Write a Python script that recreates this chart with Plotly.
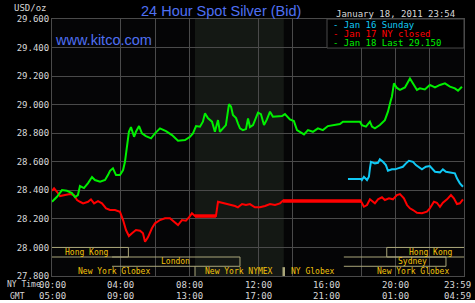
import plotly.graph_objects as go

# ---------------- data ----------------
# hours after midnight, New York time
green_hours = [0.00, 0.29, 0.58, 0.87, 1.16, 1.34, 1.51, 1.63, 1.86, 2.10, 2.33, 2.50, 2.80, 3.09, 3.26,
               3.38, 3.55, 3.73, 3.96, 4.14, 4.25, 4.37, 4.48, 4.60, 4.78, 4.89, 5.07, 5.24, 5.47, 5.77,
               6.00, 6.29, 6.64, 6.99, 7.34, 7.75, 8.04, 8.21, 8.39, 8.62, 8.79, 8.91, 9.09, 9.32, 9.49,
               9.67, 9.78, 9.96, 10.13, 10.31, 10.43, 10.54, 10.72, 10.83, 10.95, 11.12, 11.30, 11.42,
               11.53, 11.71, 12.00, 12.17, 12.35, 12.52, 12.70, 12.87, 13.16, 13.40, 13.57, 13.86, 14.09,
               14.27, 14.44, 14.68, 14.91, 15.20, 15.49, 15.78, 16.07, 16.37, 16.77, 16.95, 17.24, 17.94,
               18.05, 18.29, 18.52, 18.64, 18.81, 19.10, 19.39, 19.57, 19.74, 19.80, 19.92, 20.09, 20.27,
               20.56, 20.85, 21.03, 21.26, 21.43, 21.72, 22.01, 22.31, 22.60, 22.89, 23.18, 23.47, 23.65,
               23.88]
green_prices = [28.320, 28.355, 28.402, 28.397, 28.381, 28.353, 28.367, 28.430, 28.416, 28.451, 28.493,
                28.472, 28.460, 28.472, 28.507, 28.537, 28.554, 28.507, 28.507, 28.542, 28.600, 28.705,
                28.810, 28.843, 28.775, 28.810, 28.850, 28.799, 28.780, 28.764, 28.799, 28.834, 28.815,
                28.787, 28.747, 28.752, 28.775, 28.799, 28.850, 28.846, 28.881, 28.939, 28.904, 28.881,
                28.810, 28.892, 28.810, 28.834, 28.857, 29.004, 28.986, 28.927, 28.906, 28.869, 28.834,
                28.822, 28.829, 28.904, 28.843, 28.857, 28.944, 28.934, 28.857, 28.897, 28.951, 28.916,
                28.916, 28.920, 28.934, 28.897, 28.885, 28.822, 28.810, 28.792, 28.822, 28.810, 28.834,
                28.822, 28.850, 28.857, 28.864, 28.881, 28.881, 28.881, 28.857, 28.846, 28.881, 28.846,
                28.834, 28.857, 28.892, 28.951, 29.032, 29.056, 29.149, 29.117, 29.103, 29.121, 29.184,
                29.149, 29.103, 29.114, 29.107, 29.138, 29.121, 29.138, 29.149, 29.126, 29.114, 29.098,
                29.126]

red_hours = [0.00, 0.12, 0.29, 0.47, 0.76, 1.05, 1.28, 1.46, 1.63, 1.81, 2.10, 2.27, 2.45, 2.68, 2.91,
             3.15, 3.38, 3.67, 3.96, 4.14, 4.31, 4.48, 4.66, 4.89, 5.13, 5.30, 5.42, 5.59, 5.82, 6.00,
             6.29, 6.58, 6.87, 7.11, 7.34, 7.57, 7.80, 7.98, 8.15, 8.33, 9.55, 9.67, 10.08, 10.37, 10.66,
             10.83, 11.07, 11.30, 11.53, 11.82, 12.11, 12.41, 12.70, 12.99, 13.28, 13.45, 18.00, 18.17,
             18.35, 18.52, 18.64, 18.81, 18.99, 19.22, 19.39, 19.63, 19.86, 20.09, 20.27, 20.50, 20.68,
             20.85, 21.03, 21.26, 21.55, 21.84, 22.01, 22.25, 22.42, 22.60, 22.77, 23.01, 23.24, 23.41,
             23.59, 23.76, 23.94]
red_prices = [28.397, 28.414, 28.390, 28.360, 28.367, 28.374, 28.367, 28.332, 28.320, 28.309, 28.320,
              28.337, 28.309, 28.325, 28.309, 28.274, 28.262, 28.262, 28.250, 28.192, 28.122, 28.080,
              28.099, 28.122, 28.117, 28.099, 28.040, 28.071, 28.134, 28.169, 28.192, 28.204, 28.204,
              28.180, 28.157, 28.192, 28.187, 28.211, 28.239, 28.220, 28.220, 28.320, 28.309, 28.297,
              28.290, 28.281, 28.304, 28.297, 28.304, 28.281, 28.281, 28.290, 28.304, 28.297, 28.309,
              28.327, 28.323, 28.285, 28.297, 28.337, 28.327, 28.309, 28.337, 28.351, 28.332, 28.344,
              28.337, 28.367, 28.374, 28.344, 28.297, 28.274, 28.262, 28.243, 28.239, 28.250, 28.274,
              28.320, 28.313, 28.285, 28.313, 28.337, 28.367, 28.344, 28.304, 28.309, 28.337]

# flat stretches while New York was closed (drawn heavier)
red_flat_hours = [[8.33, 9.55], [13.45, 18.00]]
red_flat_prices = [[28.220, 28.220], [28.325, 28.325]]

cyan_hours = [17.24, 18.00, 18.05, 18.17, 18.35, 18.46, 18.52, 18.58, 18.81, 18.99, 19.10, 19.28, 19.45,
              19.57, 19.80, 19.98, 20.15, 20.44, 20.62, 20.79, 21.03, 21.20, 21.55, 21.78, 22.01, 22.31,
              22.60, 22.77, 22.95, 23.30, 23.47, 23.59, 23.76, 23.94]
cyan_prices = [28.479, 28.479, 28.472, 28.495, 28.472, 28.495, 28.554, 28.600, 28.589, 28.593, 28.617,
               28.600, 28.577, 28.537, 28.547, 28.547, 28.554, 28.565, 28.589, 28.607, 28.600, 28.577,
               28.547, 28.565, 28.570, 28.530, 28.526, 28.547, 28.530, 28.523, 28.519, 28.484, 28.449,
               28.425]

y_ticks = [27.8, 28.0, 28.2, 28.4, 28.6, 28.8, 29.0, 29.2, 29.4, 29.6]
x_grid_hours = [4, 6, 8, 12, 14, 18, 20, 22]
ny_tick_hours = [0, 4, 8, 12, 16, 20, 23.6]
ny_tick_labels = ["00:00", "04:00", "08:00", "12:00", "16:00", "20:00", "23:59"]
gmt_tick_labels = ["05:00", "09:00", "13:00", "17:00", "21:00", "01:00", "04:59"]

legend_labels = ["- Jan 16 Sunday", "- Jan 17 NY closed", "- Jan 18 Last 29.150"]

nymex_open, nymex_close = 8.33, 13.5

# sessions: name, start hour, end hour, row (1 = top)
session_names = ["Hong Kong", "London", "New York Globex", "New York NYMEX", "NY Globex",
                 "Sydney", "Hong Kong", "New York Globex"]
session_start = [0.0, 3.5, -1.0, 8.33, 13.5, 17.0, 19.5, 18.0]
session_end = [4.45, 10.95, 8.33, 13.5, 17.0, 22.95, 24.8, 24.0]
session_row = [1, 2, 3, 3, 3, 2, 1, 3]

# ---------------- styles ----------------
GRID = "#4a4a4a"
BOXLINE = "#aaa67a"
GOLD = "#f2c20c"
TXT = "#d8d8d8"
BLUE = "#4f70f2"
GREEN = "#00f000"
RED = "#ff0000"
CYAN = "#10c8f4"
MONO = "DejaVu Sans Mono"

row_top = {1: 28.0, 2: 27.933, 3: 27.868}
row_bot = {1: 27.933, 2: 27.868, 3: 27.8}

fig = go.Figure()

fig.add_trace(go.Scatter(x=cyan_hours, y=cyan_prices, mode="lines",
                         line=dict(color=CYAN, width=2), hoverinfo="skip"))
fig.add_trace(go.Scatter(x=red_hours, y=red_prices, mode="lines",
                         line=dict(color=RED, width=2), hoverinfo="skip"))
for hx, py in zip(red_flat_hours, red_flat_prices):
    fig.add_trace(go.Scatter(x=hx, y=py, mode="lines",
                             line=dict(color=RED, width=3.5), hoverinfo="skip"))
fig.add_trace(go.Scatter(x=green_hours, y=green_prices, mode="lines",
                         line=dict(color=GREEN, width=2), hoverinfo="skip"))

shapes = []
# NYMEX shading
shapes.append(dict(type="rect", xref="x", yref="paper", x0=nymex_open, x1=nymex_close, y0=0, y1=1,
                   fillcolor="#141814", line=dict(width=0), layer="below"))

# session boxes
def seg(x0, y0, x1, y1, w=1):
    return dict(type="line", xref="x", yref="y", x0=x0, y0=y0, x1=x1, y1=y1,
                line=dict(color=BOXLINE, width=w), layer="above")

# Hong Kong (left)
shapes += [seg(0, 28.0, 4.45, 28.0), seg(4.45, 28.0, 4.45, 27.933), seg(0, 27.933, 4.45, 27.933)]
# London
shapes += [seg(3.5, 27.933, 10.95, 27.933), seg(3.5, 27.868, 10.95, 27.868),
           seg(10.95, 27.933, 10.95, 27.868)]
# New York Globex end / NYMEX end
shapes += [seg(8.33, 27.868, 8.33, 27.8), seg(13.5, 27.862, 13.5, 27.8, 2.5)]
# Sydney
shapes += [seg(17.0, 27.933, 22.95, 27.933), seg(17.0, 27.868, 22.95, 27.868),
           seg(22.95, 27.933, 22.95, 27.868)]
# Hong Kong (right)
shapes += [seg(19.5, 28.0, 24, 28.0), seg(19.5, 28.0, 19.5, 27.933), seg(19.5, 27.933, 24, 27.933)]

# legend box
shapes.append(dict(type="rect", xref="paper", yref="paper", x0=0.6675, x1=1.0, y0=0.887, y1=1.0,
                   fillcolor="#000000", line=dict(color=GRID, width=1), layer="above"))

# white page edge at the bottom
shapes.append(dict(type="rect", xref="paper", yref="paper", x0=-0.2, x1=1.1, y0=-0.093, y1=-0.12,
                   fillcolor="#ffffff", line=dict(width=0), layer="above"))

annotations = []
label_x = {0: 2.05, 1: 7.2, 2: 3.6, 3: 10.9, 4: 15.2, 5: 21.0, 6: 22.1, 7: 21.0}
for i, name in enumerate(session_names):
    r = session_row[i]
    annotations.append(dict(x=label_x[i], y=(row_top[r] + row_bot[r]) / 2, xref="x", yref="y",
                            text=name, showarrow=False, font=dict(family=MONO, size=8, color=GOLD),
                            xanchor="center", yanchor="middle"))

for h, ny, gmt in zip(ny_tick_hours, ny_tick_labels, gmt_tick_labels):
    annotations.append(dict(x=h, y=-0.035, xref="x", yref="paper", text=ny, showarrow=False,
                            font=dict(family=MONO, size=9, color=TXT), xanchor="center", yanchor="middle"))
    annotations.append(dict(x=h, y=-0.078, xref="x", yref="paper", text=gmt, showarrow=False,
                            font=dict(family=MONO, size=9, color=TXT), xanchor="center", yanchor="middle"))

annotations.append(dict(x=-0.114, y=-0.035, xref="paper", yref="paper", text="NY Time", showarrow=False,
                        font=dict(family=MONO, size=8, color=TXT), xanchor="left", yanchor="middle"))
annotations.append(dict(x=-0.083, y=-0.078, xref="paper", yref="paper", text="GMT", showarrow=False,
                        font=dict(family=MONO, size=8, color=TXT), xanchor="center", yanchor="middle"))
annotations.append(dict(x=-0.051, y=1.043, xref="paper", yref="paper", text="USD/oz", showarrow=False,
                        font=dict(family=MONO, size=9, color=TXT), xanchor="center", yanchor="middle"))
annotations.append(dict(x=0.41, y=1.031, xref="paper", yref="paper", text="24 Hour Spot Silver (Bid)",
                        showarrow=False, font=dict(family="Liberation Sans", size=14.5, color=BLUE),
                        xanchor="center", yanchor="middle"))
annotations.append(dict(x=0.003, y=0.918, xref="paper", yref="paper", text="www.kitco.com",
                        showarrow=False, font=dict(family="Liberation Sans", size=14.5, color=BLUE),
                        xanchor="left", yanchor="middle"))
annotations.append(dict(x=0.983, y=1.019, xref="paper", yref="paper", text="January 18, 2011 23:54",
                        showarrow=False, font=dict(family=MONO, size=9, color=TXT),
                        xanchor="right", yanchor="middle"))

legend_colors = [CYAN, RED, GREEN]
legend_y = [0.977, 0.942, 0.907]
for txt, col, yy in zip(legend_labels, legend_colors, legend_y):
    annotations.append(dict(x=0.678, y=yy, xref="paper", yref="paper", text=txt, showarrow=False,
                            font=dict(family=MONO, size=9, color=col), xanchor="left", yanchor="middle"))

fig.update_layout(
    width=475, height=303,
    margin=dict(l=52, r=11, t=19, b=27),
    paper_bgcolor="#000000", plot_bgcolor="#050506",
    showlegend=False,
    shapes=shapes, annotations=annotations,
    xaxis=dict(range=[0, 24], tickvals=x_grid_hours, showticklabels=False, ticks="",
               showgrid=True, gridcolor=GRID, gridwidth=1, zeroline=False,
               showline=True, linecolor=GRID, linewidth=1, mirror=True, fixedrange=True),
    yaxis=dict(range=[27.8, 29.6], tickvals=y_ticks, tickformat=".3f", ticks="",
               tickfont=dict(family=MONO, size=9, color=TXT),
               showgrid=True, gridcolor=GRID, gridwidth=1, zeroline=False,
               showline=True, linecolor=GRID, linewidth=1, mirror=True, fixedrange=True),
)

fig.write_html("out.html", config={"displayModeBar": False})
